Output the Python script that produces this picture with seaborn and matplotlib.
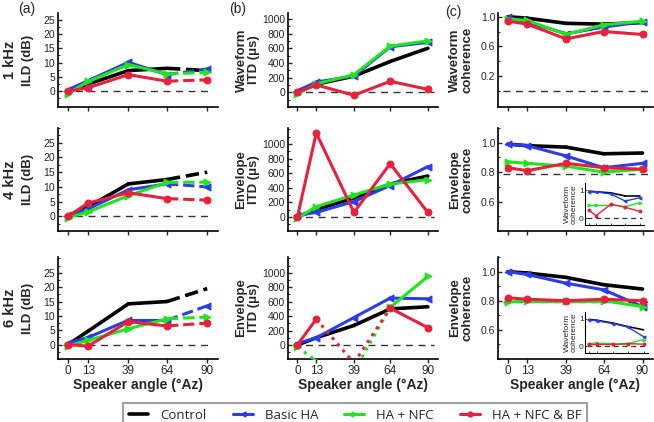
import numpy as np
import matplotlib
matplotlib.use('Agg')
import matplotlib.pyplot as plt
import seaborn as sns
from matplotlib.lines import Line2D
from matplotlib.ticker import AutoMinorLocator

sns.set_theme(style='ticks')
plt.rcParams['font.family'] = ['Liberation Sans', 'DejaVu Sans']

angles = [0, 13, 39, 64, 90]
names = ['Control', 'Basic HA', 'HA + NFC', 'HA + NFC & BF']

# (a) ILD, dB
ild1_control = [0, 2.5, 7.2, 8.0, 7.2]
ild1_basic = [0.5, 3.7, 10.1, 5.8, 7.8]
ild1_nfc = [-0.8, 3.4, 9.3, 6.0, 6.6]
ild1_bf = [0, 1.2, 5.8, 3.5, 4.0]

ild4_control = [0, 3.2, 11.0, 12.5, 15.0]
ild4_basic = [0.5, 2.5, 9.0, 11.0, 10.0]
ild4_nfc = [-0.5, 1.5, 7.0, 11.5, 11.6]
ild4_bf = [0, 4.5, 8.0, 6.0, 5.5]

ild6_control = [0, 4.7, 14.2, 15.0, 19.5]
ild6_basic = [0.5, 2.5, 8.5, 8.5, 13.5]
ild6_nfc = [-0.5, 1.5, 5.5, 9.0, 9.6]
ild6_bf = [0, -0.5, 8.0, 6.5, 7.5]

# (b) ITD, us
witd1_control = [0, 110, 220, 420, 600]
witd1_basic = [20, 140, 220, 620, 680]
witd1_nfc = [-20, 115, 240, 630, 700]
witd1_bf = [0, 100, -40, 150, 40]

eitd4_control = [0, 100, 260, 450, 560]
eitd4_basic = [20, 60, 210, 430, 690]
eitd4_nfc = [-20, 140, 300, 450, 510]
eitd4_bf = [0, 1150, 60, 730, 60]

eitd6_control = [0, 100, 270, 500, 530]
eitd6_basic = [20, 100, 380, 650, 640]
eitd6_nfc = [-30, -220, -370, 520, 950]
eitd6_bf = [0, 360, -250, 510, 240]
eitd6_nfc_bad = [False, True, True, False, False]
eitd6_bf_bad = [False, False, True, False, False]

# (c) coherence
wcoh1_control = [1.0, 0.98, 0.91, 0.90, 0.92]
wcoh1_basic = [0.99, 0.93, 0.77, 0.86, 0.93]
wcoh1_nfc = [0.97, 0.95, 0.76, 0.89, 0.94]
wcoh1_bf = [0.94, 0.90, 0.70, 0.80, 0.76]

ecoh4_control = [0.99, 0.98, 0.97, 0.925, 0.93]
ecoh4_basic = [0.99, 0.98, 0.91, 0.83, 0.86]
ecoh4_nfc = [0.87, 0.86, 0.84, 0.80, 0.82]
ecoh4_bf = [0.83, 0.81, 0.86, 0.83, 0.82]

ecoh6_control = [1.0, 0.99, 0.96, 0.91, 0.88]
ecoh6_basic = [1.0, 0.98, 0.92, 0.875, 0.76]
ecoh6_nfc = [0.79, 0.80, 0.80, 0.80, 0.76]
ecoh6_bf = [0.82, 0.81, 0.80, 0.81, 0.80]

# insets: waveform coherence
inset4_control = [0.96, 0.94, 0.90, 0.79, 0.79]
inset4_basic = [0.94, 0.93, 0.86, 0.61, 0.73]
inset4_nfc = [0.47, 0.47, 0.47, 0.41, 0.55]
inset4_bf = [0.29, 0.09, 0.50, 0.39, 0.24]

inset6_control = [0.98, 0.95, 0.85, 0.72, 0.60]
inset6_basic = [0.96, 0.93, 0.83, 0.70, 0.35]
inset6_nfc = [0.10, 0.12, 0.10, 0.10, 0.25]
inset6_bf = [0.08, 0.08, 0.08, 0.10, 0.08]

colors = ['black', '#2b3de6', '#1fe51f', '#e8203c']
markers = [None, '<', '>', 'o']
widths = [2.6, 2.2, 2.2, 2.2]

W, H = 654, 422
fig = plt.figure(figsize=(W / 100, H / 100), dpi=100)


def box(l, t, r, b):
    return [l / W, 1 - b / H, (r - l) / W, (b - t) / H]


def draw(ax, ys, dashed_last=False, bad=None, lw_scale=1.0, msize=24):
    for k, y in enumerate(ys):
        flags = bad[k] if bad is not None else None
        for i in range(4):
            if flags is not None and (flags[i] or flags[i + 1]):
                ls = ':'
            elif dashed_last and i == 3:
                ls = '--'
            else:
                ls = '-'
            sns.lineplot(x=angles[i:i + 2], y=y[i:i + 2], ax=ax, color=colors[k],
                         lw=widths[k] * lw_scale, linestyle=ls, legend=False,
                         solid_capstyle='round', zorder=2 + k)
        if markers[k] is not None:
            sns.scatterplot(x=angles, y=y, ax=ax, color=colors[k], marker=markers[k],
                            s=msize, edgecolor=colors[k], linewidth=0.8,
                            legend=False, zorder=3 + k)


def style(ax, ylim, yticks, yfmt, ref, xlabels):
    ax.axhline(ref, xmin=0.03, xmax=0.97, color='#333333', lw=1.0,
               dashes=(5, 4), zorder=1)
    ax.set_xlim(-6.5, 97)
    ax.set_ylim(*ylim)
    ax.set_xticks(angles)
    ax.set_yticks(yticks)
    ax.set_yticklabels([yfmt.format(v) for v in yticks])
    ax.yaxis.set_minor_locator(AutoMinorLocator(2))
    sns.despine(ax=ax)
    for s in ['left', 'bottom']:
        ax.spines[s].set_linewidth(1.2)
        ax.spines[s].set_color('black')
    ax.tick_params(axis='y', which='major', direction='in', length=3, width=1,
                   labelsize=7.5, pad=2)
    ax.tick_params(axis='y', which='minor', direction='in', length=1.5, width=0.8)
    ax.tick_params(axis='x', direction='out', length=3, width=1, labelsize=8.5, pad=1)
    if xlabels:
        ax.set_xlabel('Speaker angle (°Az)', fontsize=10, fontweight='bold', labelpad=1)
    else:
        ax.set_xticklabels([])
    ax.grid(False)


rows = [(13, 107), (128, 231), (257, 359)]
cols = [(58, 218), (288, 438), (498, 653)]

ild = [[ild1_control, ild1_basic, ild1_nfc, ild1_bf],
       [ild4_control, ild4_basic, ild4_nfc, ild4_bf],
       [ild6_control, ild6_basic, ild6_nfc, ild6_bf]]
itd = [[witd1_control, witd1_basic, witd1_nfc, witd1_bf],
       [eitd4_control, eitd4_basic, eitd4_nfc, eitd4_bf],
       [eitd6_control, eitd6_basic, eitd6_nfc, eitd6_bf]]
coh = [[wcoh1_control, wcoh1_basic, wcoh1_nfc, wcoh1_bf],
       [ecoh4_control, ecoh4_basic, ecoh4_nfc, ecoh4_bf],
       [ecoh6_control, ecoh6_basic, ecoh6_nfc, ecoh6_bf]]

ild_ylims = [(-5.5, 27.3), (-5, 30), (-5, 30.5)]
itd_ylims = [(-200, 1080), (-195, 1220), (-195, 1220)]
coh_ylims = [(-0.22, 1.05), (0.4, 1.1), (0.4, 1.1)]
itd_labels = ['Waveform\nITD (μs)', 'Envelope\nITD (μs)', 'Envelope\nITD (μs)']
coh_labels = ['Waveform\ncoherence', 'Envelope\ncoherence', 'Envelope\ncoherence']
freqs = ['1 kHz', '4 kHz', '6 kHz']

for r, (t, b) in enumerate(rows):
    last = r == 2
    # ILD
    ax = fig.add_axes(box(cols[0][0], t, cols[0][1], b))
    draw(ax, ild[r], dashed_last=True)
    style(ax, ild_ylims[r], [0, 5, 10, 15, 20, 25], '{:d}', 0, last)
    ax.set_ylabel('ILD (dB)', fontsize=9.5, fontweight='bold')
    ax.yaxis.set_label_coords(-0.15, 0.5)
    fig.text(10 / W, 1 - (t + b) / 2 / H, freqs[r], rotation=90, ha='center',
             va='center', fontsize=10.5, fontweight='bold')

    # ITD
    ax = fig.add_axes(box(cols[1][0], t, cols[1][1], b))
    bad = [None, None, eitd6_nfc_bad, eitd6_bf_bad] if r == 2 else None
    draw(ax, itd[r], bad=bad)
    style(ax, itd_ylims[r], [0, 200, 400, 600, 800, 1000], '{:d}', 0, last)
    ax.set_ylabel(itd_labels[r], fontsize=9.5, fontweight='bold', linespacing=1.0)
    ax.yaxis.set_label_coords(-0.19, 0.5)

    # coherence
    ax = fig.add_axes(box(cols[2][0], t, cols[2][1], b))
    draw(ax, coh[r])
    if r == 0:
        style(ax, coh_ylims[r], [0.2, 0.6, 1.0], '{:.1f}', 0, last)
    else:
        style(ax, coh_ylims[r], [0.6, 0.8, 1.0], '{:.1f}', 0.79, last)
    ax.set_ylabel(coh_labels[r], fontsize=9.5, fontweight='bold', linespacing=1.0)
    ax.yaxis.set_label_coords(-0.16, 0.5)

# insets
insets = [((585, 183, 644, 225), [inset4_control, inset4_basic, inset4_nfc, inset4_bf]),
          ((585, 312, 648, 353), [inset6_control, inset6_basic, inset6_nfc, inset6_bf])]
for pos, data in insets:
    ax = fig.add_axes(box(*pos))
    draw(ax, data, lw_scale=0.45, msize=4)
    ax.axhline(0, xmin=0.03, xmax=0.97, color='#333333', lw=0.9, dashes=(4, 3), zorder=1)
    ax.set_xlim(-6.5, 97)
    ax.set_ylim(-0.24, 1.25)
    ax.set_xticks(angles)
    ax.set_xticklabels([])
    ax.set_yticks([0, 1])
    ax.set_yticklabels(['0', '1'])
    sns.despine(ax=ax)
    for s in ['left', 'bottom']:
        ax.spines[s].set_linewidth(0.8)
        ax.spines[s].set_color('black')
    ax.tick_params(axis='both', direction='in', length=1.5, width=0.6, labelsize=6, pad=1)
    ax.set_ylabel('Waveform\ncoherence', fontsize=6, linespacing=1.0, labelpad=1)
    ax.patch.set_alpha(0)

fig.text(18 / W, 1 - 9 / H, '(a)', fontsize=10, va='center')
fig.text(229 / W, 1 - 9 / H, '(b)', fontsize=10, va='center')
fig.text(445 / W, 1 - 12 / H, '(c)', fontsize=10, va='center')

handles = [Line2D([], [], color=colors[k], lw=widths[k], marker=markers[k],
                  markersize=3.5) for k in range(4)]
leg = fig.legend(handles, names, loc='upper center', bbox_to_anchor=(355 / W, 1 - 396 / H),
                 ncol=4, frameon=True, fancybox=False, columnspacing=2.0,
                 handlelength=1.5, handletextpad=0.9, borderpad=0.45,
                 prop={'family': 'Open Sans', 'size': 9.5})
leg.get_frame().set_edgecolor('#888888')
leg.get_frame().set_linewidth(1.5)

fig.savefig('out.png', dpi=100)
